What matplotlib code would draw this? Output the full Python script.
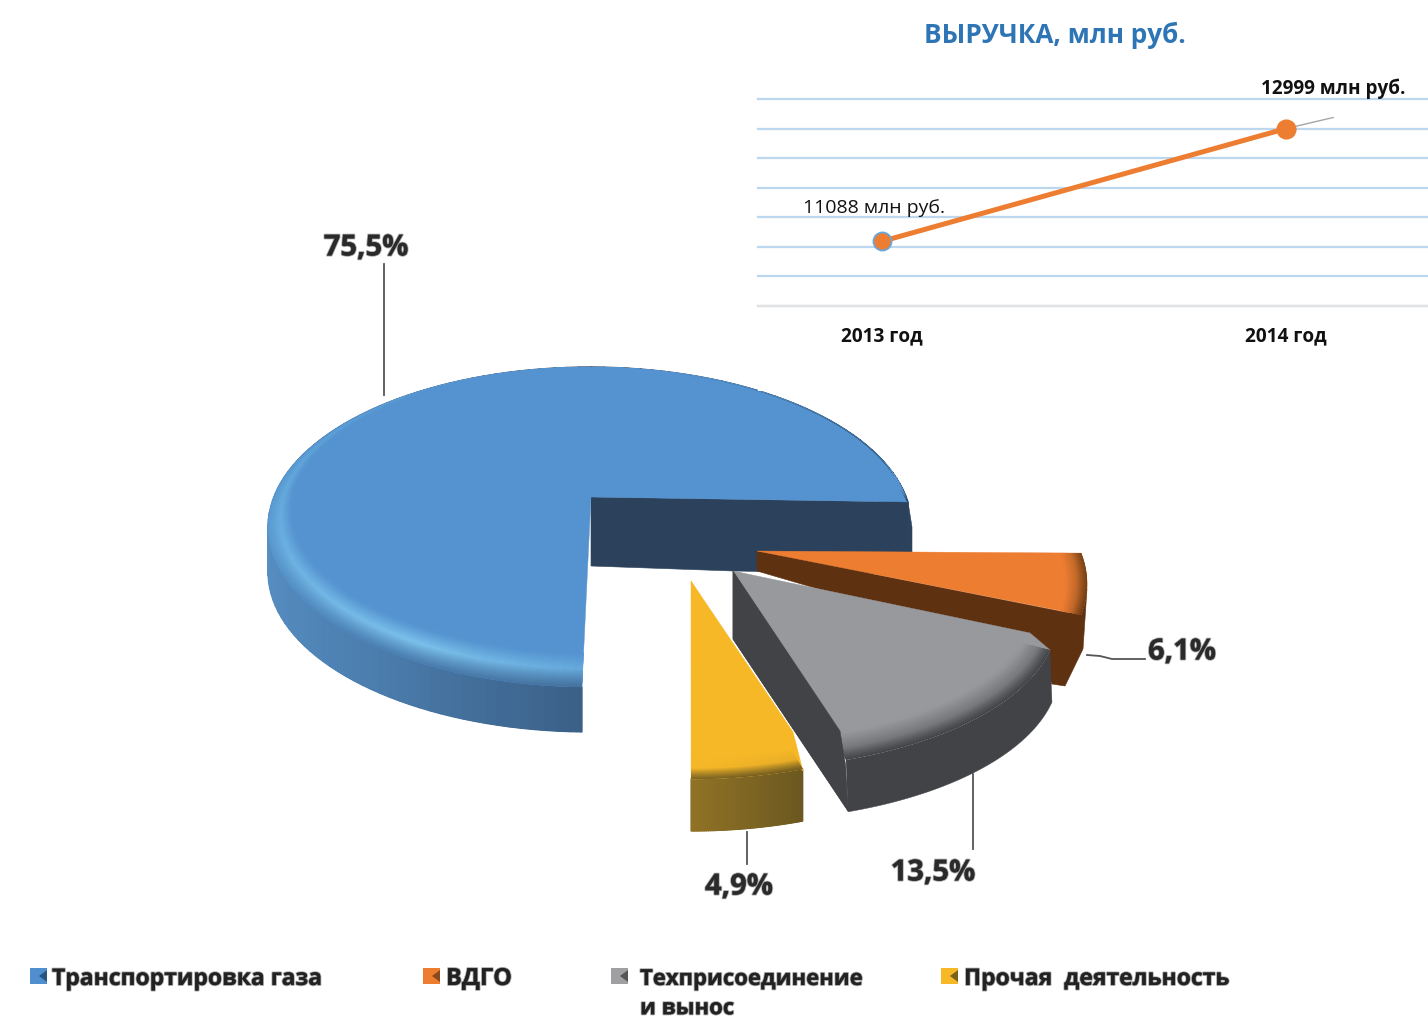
import numpy as np
import matplotlib
matplotlib.use("Agg")
import matplotlib.pyplot as plt
from matplotlib.collections import PolyCollection
from matplotlib.colors import to_rgb
from matplotlib.patches import Polygon, Rectangle
import matplotlib.patheffects as pe

# ---- data
segments = ["Транспортировка газа", "ВДГО", "Техприсоединение\nи вынос", "Прочая  деятельность"]
shares = [75.5, 6.1, 13.5, 4.9]
share_labels = ["75,5%", "6,1%", "13,5%", "4,9%"]
years = ["2013 год", "2014 год"]
revenue = [11088, 12999]
revenue_labels = ["11088 млн руб.", "12999 млн руб."]
title = "ВЫРУЧКА, млн руб."

FONT = "Open Sans"
plt.rcParams["font.family"] = [FONT, "DejaVu Sans"]
W, H = 1428, 1020
fig = plt.figure(figsize=(W / 100, H / 100), dpi=100, facecolor="white")
ax = fig.add_axes([0, 0, 1, 1])
ax.set_xlim(0, W); ax.set_ylim(H, 0); ax.axis("off")


def lerp(a, b, t):
    return np.asarray(a) * (1 - t) + np.asarray(b) * t


def keyed(keys, phi):
    ks = [k for k, _ in keys]
    cs = np.array([to_rgb(c) for _, c in keys])
    return np.array([np.interp(phi, ks, cs[:, i]) for i in range(3)])


def arc(e, phi):
    cx, cy, rx, ry = e
    r = np.radians(phi)
    return np.column_stack([cx + rx * np.cos(r), cy - ry * np.sin(r)])


def draw_slice(share, st):
    sweep = 3.6 * share * st["k"]
    phi = np.linspace(st["start"], st["start"] + sweep, 120) if st["ccw"] else np.linspace(st["start"], st["start"] - sweep, 60)
    outer = arc(st["outer"], phi)
    inner = arc(st["inner"], phi)
    apex = np.array(st["apex"], float)
    dx, dy = st["depth"]
    # cut faces
    for poly in st["cuts"]:
        ax.add_patch(Polygon(poly, closed=True, fc=st["cut_color"], ec=st["cut_color"], lw=0.4, zorder=st["z"]))
    # outer wall
    low = outer + [dx, dy]
    wall_poly = np.vstack([outer, low[::-1]])
    mean_col = keyed(st["wall"], phi.mean())
    ax.add_patch(Polygon(wall_poly, closed=True, fc=mean_col, ec=mean_col, lw=0.3, zorder=st["z"]))
    if len({c for _, c in st["wall"]}) > 1:
        quads, cols = [], []
        for i in range(len(phi) - 1):
            quads.append([outer[i], outer[i + 1], low[i + 1], low[i]])
            cols.append(keyed(st["wall"], phi[i]))
        ax.add_collection(PolyCollection(quads, facecolors=cols, edgecolors=cols, linewidths=0.9, zorder=st["z"]))
    # top face: whole wedge in the flat colour, bevel ramps on top of it
    flat = to_rgb(st["flat"])
    wedge = Polygon(np.vstack([apex, outer]), closed=True, fc=flat, ec=flat, lw=0.3, zorder=st["z"] + 0.2)
    ax.add_patch(wedge)
    for tri in st["shoulders"]:
        ax.add_patch(Polygon(tri, closed=True, fc=flat, ec=flat, lw=0.3, zorder=st["z"] + 0.2))
    ts = np.linspace(0, 1, 26)
    quads, cols = [], []
    for j in range(len(ts) - 1):
        a, b = lerp(outer, inner, ts[j]), lerp(outer, inner, ts[j + 1])
        t = (ts[j] + ts[j + 1]) / 2
        for i in range(len(phi) - 1):
            edge = keyed(st["edge"], phi[i])
            peak = keyed(st["peak"], phi[i])
            p = st["peak_at"]
            if t < p:
                c = lerp(edge, peak, (t / p) ** 1.2)
            else:
                c = lerp(peak, flat, (t - p) / (1 - p))
            quads.append([a[i], a[i + 1], b[i + 1], b[i]])
            cols.append(c)
    bevel = PolyCollection(quads, facecolors=cols, edgecolors=cols, linewidths=0.9, zorder=st["z"] + 0.3)
    ax.add_collection(bevel)
    bevel.set_clip_path(wedge)
    for poly in st.get("front_cuts", []):
        ax.add_patch(Polygon(poly, closed=True, fc=st["cut_color"], ec=st["cut_color"], lw=0.4, zorder=st["z"] + 0.4))


styles = [
    dict(start=9, k=0.955, ccw=True, outer=(590, 528, 322, 160), inner=(598, 511, 306, 143),
         apex=(591, 498), depth=(0, 45), z=2, flat="#5593d0", cut_color="#2b415c",
         cuts=[[(591, 498), (591, 567), (733, 572), (912, 575), (912, 528), (908, 503)]],
         wall=[(9, "#2b415c"), (90, "#2b415c"), (170, "#5b94c9"), (225, "#4c7fb0"), (269, "#3a5f86")],
         edge=[(9, "#2b415c"), (35, "#3a6590"), (75, "#5593d0"), (140, "#5593d0"), (180, "#5a9ad0"), (225, "#4b80b4"), (269, "#44709c")],
         peak=[(9, "#4a80b4"), (40, "#4e87bd"), (75, "#5593d0"), (150, "#5ea3d8"), (235, "#7cc1ec"), (269, "#64a8da")],
         peak_at=0.55, shoulders=[]),
    dict(start=11, k=1.0, ccw=False, outer=(762, 585, 325, 162), inner=(762, 585, 303, 162),
         apex=(757, 552), depth=(-12, 60), z=3, flat="#ed7d31", cut_color="#5e3110",
         cuts=[[(757, 552), (757, 572), (1040, 655), (1052, 685), (1065, 687), (1083, 650), (1087, 590), (1069, 614)]],
         wall=[(-20, "#5e3110"), (11, "#5e3110")],
         edge=[(-20, "#6a3a14"), (11, "#7a4317")],
         peak=[(-20, "#b8622a"), (11, "#c66c2a")],
         peak_at=0.5, shoulders=[]),
    dict(start=-12, k=1.19, ccw=False, outer=(735, 620, 322, 150), inner=(735, 604, 300, 138),
         apex=(733, 572), depth=(2, 52), z=4, flat="#98999d", cut_color="#424346",
         cuts=[[(733, 572), (733, 640), (848, 812), (845, 763)]],
         front_cuts=[[(733, 572), (733, 640), (848, 812), (845, 763), (840, 732)]],
         wall=[(-75, "#424346"), (-10, "#424346")],
         edge=[(-75, "#424346"), (-10, "#424346")],
         peak=[(-75, "#77787b"), (-10, "#77787b")],
         peak_at=0.45,
         shoulders=[[(733, 572), (1030, 634), (1050, 651), (900, 640)]]),
    dict(start=-69.7, k=1.15, ccw=False, outer=(691, 620, 322, 160), inner=(691, 620, 300, 137),
         apex=(691, 582), depth=(0, 52), z=5, flat="#f6b827", cut_color="#8c6f25",
         cuts=[],
         wall=[(-90, "#917326"), (-70, "#6c5820")],
         edge=[(-90, "#7a6224"), (-70, "#6c5820")],
         peak=[(-90, "#f6b827"), (-70, "#e8ad27")],
         peak_at=0.5, shoulders=[[(691, 582), (793, 733), (803, 772), (750, 720)]]),
]
for s, st in zip(shares, styles):
    draw_slice(s, st)

# leader lines
for xs, ys in [([384, 384], [265, 396]),
               ([1087, 1100, 1112, 1145], [656, 657, 660, 660]),
               ([973, 973], [775, 850]),
               ([747, 747], [833, 865])]:
    ax.plot(xs, ys, color="#555555", lw=1.3, zorder=1.5)

# percentage labels
blur = [pe.withStroke(linewidth=1.4, foreground="#55555580")]
for s, (x, y) in zip(share_labels, [(366, 249), (1182, 653), (933, 874), (739, 888)]):
    ax.text(x, y, s, ha="center", va="center", fontsize=21, fontweight="bold", color="#2a2a2a",
            path_effects=blur, zorder=6)

# legend
leg_colors = ["#4f8fd0", "#ed7d31", "#a0a0a2", "#f6b827"]
leg_dark = ["#27557f", "#8a4a1a", "#555555", "#7a6018"]
leg_sizes = [16.5, 17, 15.9, 16.5]
leg_tops = [968, 968, 970, 968]
for c, d, x, lab, tx, fs, ty in zip(leg_colors, leg_dark, [30, 423, 611, 941], segments, [52, 446, 640, 964], leg_sizes, leg_tops):
    ax.add_patch(Rectangle((x, 969), 17, 16, fc=c, ec="none", zorder=6))
    ax.add_patch(Polygon([(x + 17, 971), (x + 17, 983), (x + 9, 977)], closed=True, fc=d, ec="none", zorder=6.1))
    ax.text(tx, ty, lab, ha="left", va="top", fontsize=fs, fontweight="bold", color="#222222",
            path_effects=blur, zorder=6, linespacing=1.52)

# white panel over the pie + line chart
ax.add_patch(Rectangle((758, 0), W - 758, 392, fc="white", ec="none", zorder=7))
top_px, bot_px = 100, 306.5
lax = fig.add_axes([758 / W, 1 - bot_px / H, (W - 758) / W, (bot_px - top_px) / H], zorder=10)
lax.patch.set_alpha(0)
lax.set_xlim(-0.307, 1.351)
lax.set_ylim(10000, 13500)
for sp in lax.spines.values():
    sp.set_visible(False)
lax.set_yticks(np.arange(10000, 13501, 500))
lax.set_yticklabels([])
lax.tick_params(length=0)
lax.grid(axis="y", color="#bdd7ee", lw=1.6, clip_on=False)
lax.set_axisbelow(True)
lax.axhline(10000, color="#e2e2e2", lw=1.6, clip_on=False)
lax.set_xticks([0, 1])
lax.set_xticklabels(years, fontsize=13.7, fontweight="bold", color="#111111")
lax.tick_params(axis="x", pad=14)
lax.plot([0, 1], revenue, color="#ed7d31", lw=3.6, solid_capstyle="round", zorder=3)
lax.plot([0], revenue[:1], "o", ms=13, mfc="#ed7d31", mec="#6aa5db", mew=1.3, zorder=4)
lax.plot([1], revenue[1:], "o", ms=13.5, mfc="#ed7d31", mec="#ed7d31", zorder=4)
lax.annotate("", xy=(1, revenue[1]), xytext=(34, 8), textcoords="offset points",
             arrowprops=dict(arrowstyle="-", color="#a6a6a6", lw=1, shrinkA=0, shrinkB=0), zorder=2)
lax.annotate(revenue_labels[0], xy=(0, revenue[0]), xytext=(-6, 18), textcoords="offset points",
             ha="center", va="bottom", fontsize=14, color="#111111", zorder=5)
lax.annotate(revenue_labels[1], xy=(1, revenue[1]), xytext=(34, 22), textcoords="offset points",
             ha="center", va="bottom", fontsize=13.6, fontweight="bold", color="#111111", zorder=5)
fig.text(1055 / W, 1 - 35 / H, title, ha="center", va="center", fontsize=18.8, fontweight="bold",
         color="#2e75b6", zorder=11)

fig.savefig("out.png", dpi=100, facecolor="white")
